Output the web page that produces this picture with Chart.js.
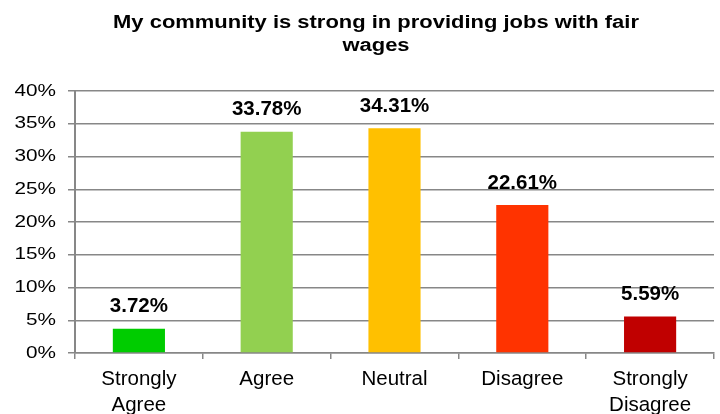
<!DOCTYPE html>
<html>
<head>
<meta charset="utf-8">
<script src="https://cdn.jsdelivr.net/npm/chart.js@4/dist/chart.umd.min.js"></script>
<style>
  html, body { margin: 0; padding: 0; background: #fff; }
  #wrap { width: 720px; height: 414px; }
</style>
</head>
<body>
<div id="wrap"><canvas id="chart"></canvas></div>
<script>
// survey answers
const titleLines = ['My community is strong in providing jobs with fair', 'wages'];
const categories = [['Strongly', 'Agree'], 'Agree', 'Neutral', 'Disagree', ['Strongly', 'Disagree']];
const shares = [3.72, 33.78, 34.31, 22.61, 5.59];
const barColors = ['#00cc00', '#92d050', '#ffc000', '#ff3300', '#c00000'];
const yTicks = [0, 5, 10, 15, 20, 25, 30, 35, 40];

const FONT = '"Liberation Sans", Arial, sans-serif';
const GRID = '#878787';
const WIDE = 1.22; // horizontal stretch of the title and percent axis text

function wideText(ctx, text, x, y){
  ctx.save();
  ctx.translate(x, y);
  ctx.scale(WIDE, 1);
  ctx.fillText(text, 0, 0);
  ctx.restore();
}

// title, y-axis labels and bar values
const extraText = {
  id: 'extraText',
  afterDraw(chart){
    const ctx = chart.ctx;
    const y = chart.scales.y;
    const meta = chart.getDatasetMeta(0);
    ctx.save();
    ctx.fillStyle = '#000';
    ctx.textBaseline = 'middle';

    ctx.textAlign = 'center';
    ctx.font = 'bold 18px ' + FONT;
    titleLines.forEach((t, i) => wideText(ctx, t, 376, 23 + i * 23));

    ctx.textAlign = 'right';
    ctx.font = '17px ' + FONT;
    yTicks.forEach(v => wideText(ctx, v + '%', 56, y.getPixelForValue(v)));

    ctx.textAlign = 'center';
    ctx.font = 'bold 20.5px ' + FONT;
    meta.data.forEach((bar, i) => {
      ctx.fillText(shares[i].toFixed(2) + '%', bar.x, bar.y - 22);
    });
    ctx.restore();
  }
};

new Chart(document.getElementById('chart'), {
  type: 'bar',
  data: {
    labels: categories,
    datasets: [{
      data: shares,
      backgroundColor: barColors,
      barPercentage: 0.816,
      categoryPercentage: 0.5
    }]
  },
  options: {
    responsive: true,
    maintainAspectRatio: false,
    animation: false,
    layout: { padding: { left: 0, right: 6, top: 91, bottom: 0 } },
    plugins: {
      legend: { display: false },
      tooltip: { enabled: false },
      title: { display: false }
    },
    scales: {
      x: {
        afterFit(scale){ scale.height = 61; },
        grid: {
          display: true,
          drawOnChartArea: false,
          drawTicks: true,
          tickLength: 6,
          color: GRID,
          lineWidth: 1.5,
          offset: true
        },
        border: { color: GRID, width: 1.5 },
        ticks: {
          color: '#000',
          font: { family: FONT, size: 20.5, lineHeight: 1.25 },
          padding: 8,
          maxRotation: 0
        }
      },
      y: {
        min: 0,
        max: 40,
        afterBuildTicks(axis){ axis.ticks = yTicks.map(v => ({ value: v })); },
        afterFit(scale){ scale.width = 75; },
        grid: { color: GRID, lineWidth: 1.5, tickLength: 7 },
        border: { color: GRID, width: 2 },
        ticks: { display: false }
      }
    }
  },
  plugins: [extraText]
});
</script>
</body>
</html>
